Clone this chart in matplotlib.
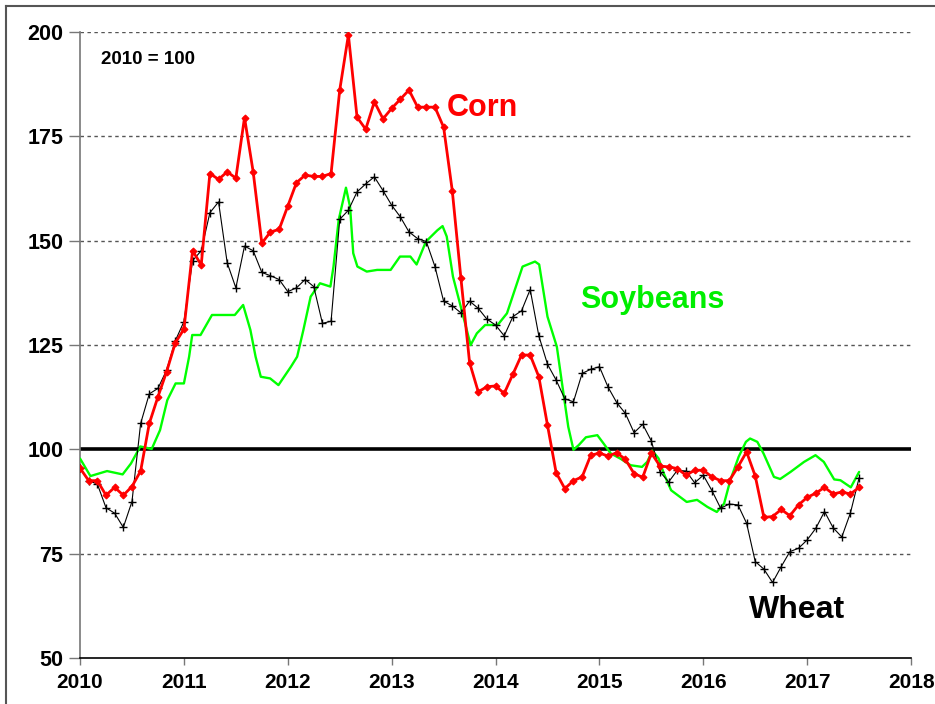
import matplotlib
matplotlib.use("Agg")
import matplotlib.pyplot as plt
from matplotlib.lines import Line2D
import numpy as np

# ---------------- data ----------------
start_year = 2010
corn = [95.5, 92.5, 92.5, 89.0, 90.9, 89.0, 91.1, 94.8, 106.2, 112.6, 118.6, 125.5,
        128.8, 147.6, 144.2, 166.1, 164.7, 166.5, 165.0, 179.5, 166.5, 149.4, 152.1, 152.7,
        158.3, 163.9, 165.7, 165.4, 165.4, 166.1, 186.1, 199.3, 179.6, 176.7, 183.3, 179.2,
        181.7, 183.9, 186.1, 182.0, 182.0, 182.0, 177.2, 162.0, 141.0, 120.8, 113.8, 115.0,
        115.2, 113.4, 118.0, 122.6, 122.6, 117.4, 105.8, 94.4, 90.6, 92.5, 93.4, 98.6,
        99.1, 98.4, 99.2, 97.6, 94.2, 93.3, 99.1, 96.0, 95.8, 95.4, 93.8, 95.0,
        95.0, 93.4, 92.5, 92.5, 95.8, 99.4, 93.6, 83.7, 83.9, 85.6, 84.1, 86.7,
        88.5, 89.5, 90.9, 89.3, 89.8, 89.3, 90.9]

wheat = [95.5, 92.5, 91.7, 86.0, 84.7, 81.3, 87.5, 106.2, 113.3, 114.6, 119.0, 126.0,
         130.6, 145.2, 147.6, 156.7, 159.3, 144.7, 138.7, 148.7, 147.6, 142.4, 141.6, 140.7,
         137.8, 138.7, 140.7, 139.0, 130.2, 130.7, 155.1, 157.3, 161.7, 163.6, 165.3, 162.0,
         158.5, 155.7, 152.1, 150.5, 149.8, 143.8, 135.5, 134.4, 132.7, 135.5, 133.8, 131.2,
         129.8, 127.2, 131.8, 133.2, 138.3, 127.2, 120.4, 116.6, 112.1, 111.4, 118.2, 119.2,
         119.8, 114.9, 111.2, 108.6, 104.0, 106.0, 102.0, 94.6, 92.2, 95.0, 94.8, 92.0,
         93.8, 90.1, 85.9, 86.9, 86.7, 82.3, 73.1, 71.3, 68.1, 71.9, 75.5, 76.3,
         78.3, 81.1, 85.1, 81.2, 79.0, 84.8, 93.2]

soy_dates = [2010.00, 2010.10, 2010.26, 2010.41, 2010.49, 2010.58, 2010.69, 2010.77, 2010.84,
             2010.92, 2011.00, 2011.05, 2011.08, 2011.16, 2011.27, 2011.42, 2011.49, 2011.57,
             2011.64, 2011.69, 2011.74, 2011.83, 2011.91, 2012.03, 2012.09, 2012.15, 2012.22,
             2012.31, 2012.41, 2012.44, 2012.49, 2012.56, 2012.60, 2012.63, 2012.67, 2012.76,
             2012.86, 2012.99, 2013.08, 2013.18, 2013.24, 2013.33, 2013.44, 2013.49, 2013.53,
             2013.59, 2013.69, 2013.76, 2013.82, 2013.90, 2014.02, 2014.11, 2014.26, 2014.38,
             2014.42, 2014.50, 2014.59, 2014.64, 2014.70, 2014.75, 2014.80, 2014.87, 2014.98,
             2015.04, 2015.11, 2015.20, 2015.30, 2015.41, 2015.46, 2015.51, 2015.57, 2015.62,
             2015.69, 2015.84, 2015.94, 2016.04, 2016.13, 2016.20, 2016.26, 2016.34, 2016.41,
             2016.45, 2016.52, 2016.58, 2016.68, 2016.74, 2016.84, 2016.97, 2017.08, 2017.16,
             2017.26, 2017.32, 2017.42, 2017.50]
soybeans = [97.8, 93.6, 94.8, 94.0, 96.6, 100.7, 100.1, 104.6, 111.8,
            115.8, 115.8, 122.2, 127.4, 127.4, 132.2, 132.2, 132.2, 134.6,
            128.6, 122.2, 117.4, 117.0, 115.4, 119.8, 122.2, 128.6, 136.6,
            139.8, 139.0, 143.8, 155.0, 162.7, 158.0, 147.0, 143.8, 142.6,
            143.0, 143.0, 146.2, 146.2, 144.3, 149.8, 152.5, 153.5, 151.0,
            141.4, 131.8, 125.0, 127.8, 129.8, 129.8, 132.6, 143.8, 145.0,
            144.3, 131.8, 124.6, 115.8, 105.4, 99.9, 101.0, 102.9, 103.4,
            101.4, 99.0, 97.8, 96.2, 95.8, 97.0, 99.7, 97.8, 94.2,
            90.2, 87.4, 87.9, 86.2, 85.0, 87.0, 92.6, 98.2, 101.8,
            102.6, 101.8, 99.0, 93.4, 92.9, 94.6, 97.0, 98.6, 97.0,
            92.8, 92.6, 90.9, 94.6]

x_ticks = [2010, 2011, 2012, 2013, 2014, 2015, 2016, 2017, 2018]
y_ticks = [50, 75, 100, 125, 150, 175, 200]
base_label = "2010 = 100"

# ---------------- figure ----------------
plt.rcParams['font.family'] = ['Liberation Sans', 'DejaVu Sans']
fig = plt.figure(figsize=(9.35, 7.04), dpi=100)
ax = fig.add_axes([0.0856, 0.0653, 0.8888, 0.8892])

months_corn = start_year + np.arange(len(corn)) / 12.0
months_wheat = start_year + np.arange(len(wheat)) / 12.0

# grid lines
for yv in y_ticks:
    if yv in (50, 100):
        continue
    ax.axhline(yv, color='#555555', lw=1.0, ls=(0, (2.5, 2.5)), zorder=1)
ax.axhline(100, color='black', lw=2.6, zorder=2)

ax.plot(soy_dates, soybeans, color='#00FF00', lw=1.7, zorder=3,
        solid_joinstyle='round', solid_capstyle='round')
ax.plot(months_wheat, wheat, color='black', lw=0.8, marker='+', ms=6, mew=1.0, zorder=4)
ax.plot(months_corn, corn, color='#FF0000', lw=2.0, marker='D', ms=3.5, mew=0.8, zorder=5)

ax.set_xlim(2010, 2018)
ax.set_ylim(50, 200)
ax.set_xticks(x_ticks)
ax.set_yticks(y_ticks)
ax.set_xticklabels([str(v) for v in x_ticks], fontsize=15, fontweight='bold')
ax.set_yticklabels([str(v) for v in y_ticks], fontsize=15.5, fontweight='bold')
ax.tick_params(axis='y', direction='out', length=8, width=1, color='#777777', pad=4)
ax.tick_params(axis='x', direction='out', length=5, width=1, color='#777777', pad=6)

for s in ('top', 'right'):
    ax.spines[s].set_visible(False)
ax.spines['left'].set_color('#777777')
ax.spines['left'].set_linewidth(1.2)
ax.spines['bottom'].set_color('black')
ax.spines['bottom'].set_linewidth(1.2)

# labels
ax.text(2013.87, 179.9, "Corn", color='#FF0000', fontsize=22, fontweight='bold',
        ha='center', va='baseline')
ax.text(2015.505, 133.8, "Soybeans", color='#00EE00', fontsize=22, fontweight='bold',
        ha='center', va='baseline')
ax.text(2016.90, 59.5, "Wheat", color='black', fontsize=23, fontweight='bold',
        ha='center', va='baseline')
ax.text(2010.197, 192.3, base_label, color='black', fontsize=13.5, fontweight='bold',
        ha='left', va='baseline')

# outer frame (partially visible)
fig.add_artist(Line2D([6/935, 1.0], [1 - 6/704, 1 - 6/704], transform=fig.transFigure,
                      color='#555555', lw=1.5))
fig.add_artist(Line2D([6/935, 6/935], [0.0, 1 - 6/704], transform=fig.transFigure,
                      color='#555555', lw=1.5))

fig.savefig("out.png", dpi=100)
